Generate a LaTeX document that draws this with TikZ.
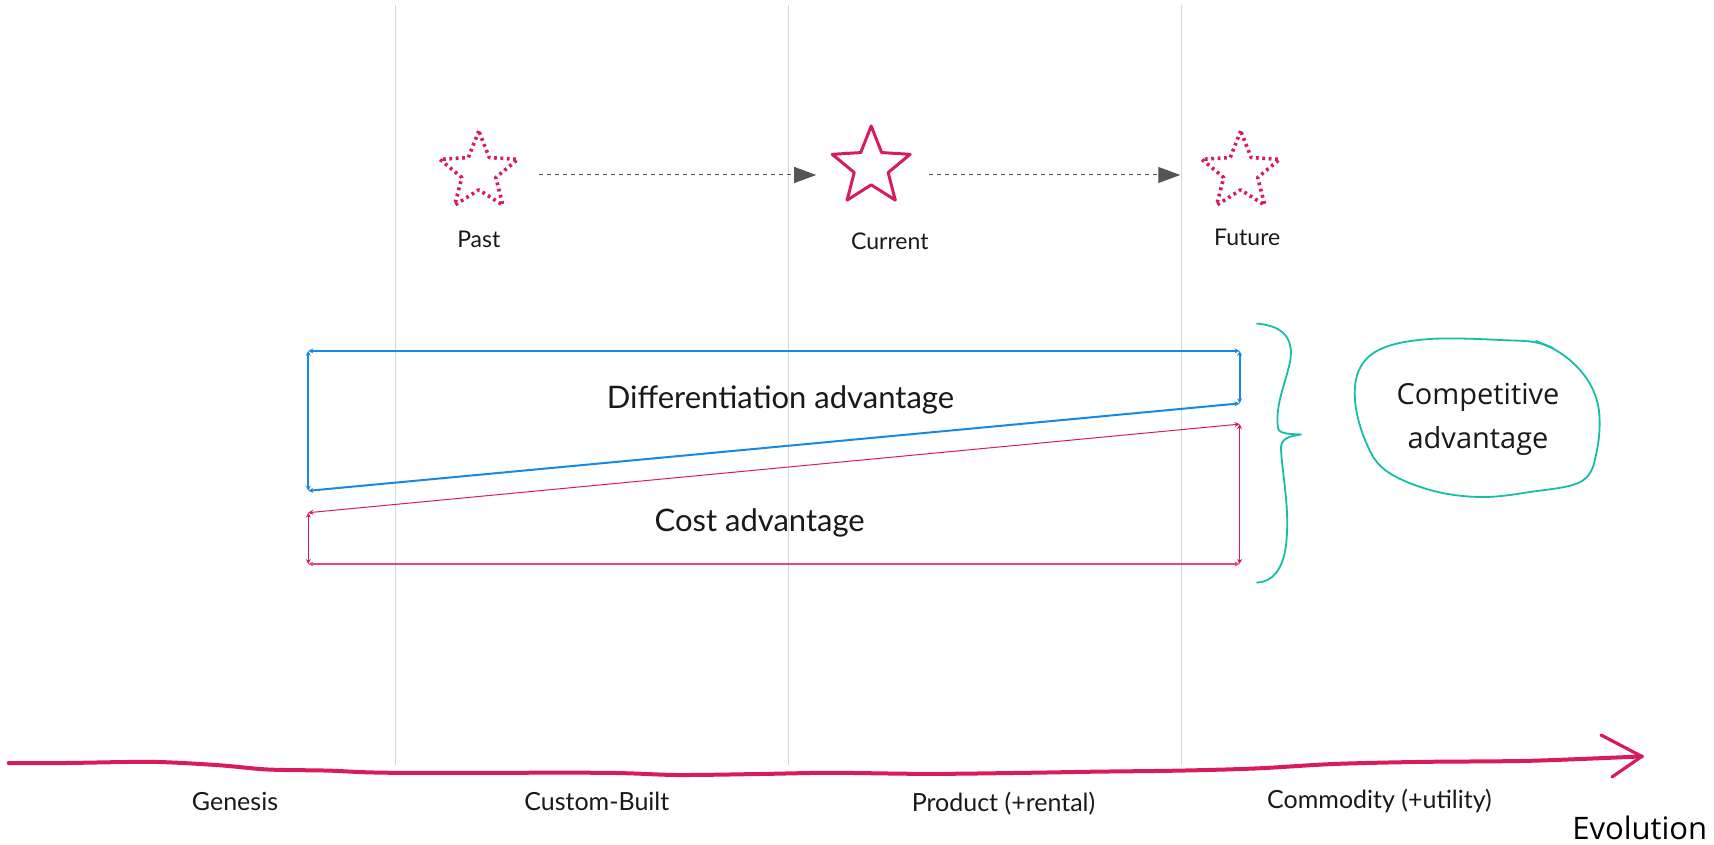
\documentclass[tikz,border=0pt]{standalone}
\usepackage{fontspec}
\setmainfont{Lato}
\newfontfamily\osans{Open Sans}
\usetikzlibrary{shapes.geometric,arrows.meta}
\definecolor{gridgrey}{RGB}{215,215,215}
\definecolor{crim}{RGB}{216,27,96}
\definecolor{bluel}{RGB}{24,136,229}
\definecolor{teal2}{RGB}{22,190,165}
\definecolor{arrgrey}{RGB}{85,85,85}
\definecolor{txt}{RGB}{25,25,25}
\begin{document}
\begin{tikzpicture}[x=0.5pt,y=-0.5pt,
  gridline/.style={draw=gridgrey, line width=0.6pt},
  starbase/.style={star, star points=5, star point ratio=2.3, minimum size=41pt, inner sep=0pt, draw=crim, line width=1.5pt, line join=round},
  stardots/.style={starbase, dash pattern=on 1.4pt off 1.8pt, line width=1.8pt},
  lbl/.style={font=\fontsize{11.5}{13}\selectfont, text=txt, inner sep=0pt},
  flowarrow/.style={draw=arrgrey, line width=0.5pt, dash pattern=on 2pt off 2pt, -{Triangle[length=11pt,width=8pt,fill=arrgrey]}},
  tinytips/.style={{Stealth[length=2.5pt,width=2.5pt]}-{Stealth[length=2.5pt,width=2.5pt]}},
  bluebox/.style={draw=bluel, line width=1pt, tinytips},
  redbox/.style={draw=crim, line width=0.5pt, tinytips},
  boxtxt/.style={font=\fontsize{15.5}{18}\selectfont, text=txt, inner sep=0pt},
  axislbl/.style={font=\fontsize{12.5}{15}\selectfont, text=txt, inner sep=0pt},
  bracestyle/.style={draw=teal2, line width=0.9pt, line cap=round},
  cloudtxt/.style={font=\osans\fontsize{14.5}{22}\selectfont, text=txt, align=center, inner sep=0pt},
  axisline/.style={draw=crim, line width=2pt, line cap=round, line join=round}
]
\useasboundingbox (0,0) rectangle (1714,845);

% grid lines
\draw[gridline] (395.7,5.5) -- (395.7,765);
\draw[gridline] (788.1,5.5) -- (788.1,765);
\draw[gridline] (1181.6,5.5) -- (1181.6,765);

% stars
\node[stardots] (past) at (478.8,172) {};
\node[starbase] (current) at (871.2,167) {};
\node[stardots] (future) at (1240.7,172) {};
\node[lbl] (pastlbl) at (478.8,239.4) {Past};
\node[lbl] (curlbl) at (889.8,241.6) {Current};
\node[lbl] (futlbl) at (1247.2,237.2) {Future};

\draw[flowarrow] ([xshift=17pt,yshift=-1.5pt]past.east) -- ([xshift=-14.5pt,yshift=-4pt]current.west);
\draw[flowarrow] ([xshift=16pt,yshift=-4pt]current.east) -- ([xshift=-17pt,yshift=-1.5pt]future.west);

% boxes
\coordinate (btl) at (308.3,350.9);
\coordinate (btr) at (1239.6,350.9);
\coordinate (bmr) at (1239.6,403.4);
\coordinate (bbl) at (308.3,490.8);
\coordinate (rtl) at (308.3,512.7);
\coordinate (rtr) at (1239.6,424.1);
\coordinate (rbr) at (1239.6,564);
\coordinate (rbl) at (308.3,564);

\draw[bluebox] (btl) -- (btr);
\draw[bluebox] (btr) -- (bmr);
\draw[bluebox] (bmr) -- (bbl);
\draw[bluebox] (bbl) -- (btl);
\draw[redbox] (rtl) -- (rtr);
\draw[redbox] (rtr) -- (rbr);
\draw[redbox, line width=0.8pt, draw=crim!80!white] (rbr) -- (rbl);
\draw[redbox] (rbl) -- (rtl);

\node[boxtxt] (difft) at (780.5,400.1) {Differentiation advantage};
\node[boxtxt] (costt) at (759.7,522.5) {Cost advantage};

% brace
\draw[bracestyle] (1257,323.6) .. controls (1285,326) and (1294,340) .. (1290,362)
  .. controls (1285,385) and (1275,405) .. (1278,428)
  .. controls (1279,434) and (1290,434) .. (1301.5,434.5)
  .. controls (1290,436) and (1280,438) .. (1281,450)
  .. controls (1283,480) and (1290,510) .. (1286,545)
  .. controls (1283,570) and (1272,582) .. (1257,582.6);

% cloud
\draw[bracestyle] plot[smooth cycle, tension=0.6] coordinates {
  (1430,339) (1500,340) (1545,345) (1580,370) (1598,405) (1597,450)
  (1582,481) (1530,492) (1480,497) (1430,490) (1385,470) (1365,440)
  (1355,400) (1360,368) (1383,348)};
\draw[bracestyle] (1536,341) -- (1553,348);
\node[cloudtxt] (comp) at (1478,419) {Competitive\\advantage};

% evolution axis
\draw[axisline] plot[smooth, tension=0.5] coordinates {
  (8.7,763) (65.6,763) (153,761.9) (218.6,765.2) (267.8,769.5) (328,770.6)
  (393.5,772.8) (601.2,772.8) (677.7,775) (765.2,773.9) (830.8,772.8)
  (929.1,773.9) (1027.5,772.8) (1093.1,771.7) (1180.6,770.6) (1257,768.4)
  (1333.6,764) (1421,761.9) (1530,760.8) (1641.8,756.4)};
\coordinate (chevtop) at (1601,735);
\coordinate (chevtip) at (1641.8,756.4);
\coordinate (chevbot) at (1612,777);
\draw[axisline, line width=1.6pt] (chevtop) -- (chevtip) -- (chevbot);

\node[axislbl] (gen) at (235,801.2) {Genesis};
\node[axislbl] (cust) at (596.8,801.2) {Custom-Built};
\node[axislbl] (prod) at (1003.5,803.4) {Product (+rental)};
\node[axislbl] (comm) at (1379.5,801.2) {Commodity (+utility)};
\node[font=\osans\fontsize{15.5}{18}\selectfont, text=black, inner sep=0pt] (evo) at (1639.7,827.5) {Evolution};
\end{tikzpicture}
\end{document}
